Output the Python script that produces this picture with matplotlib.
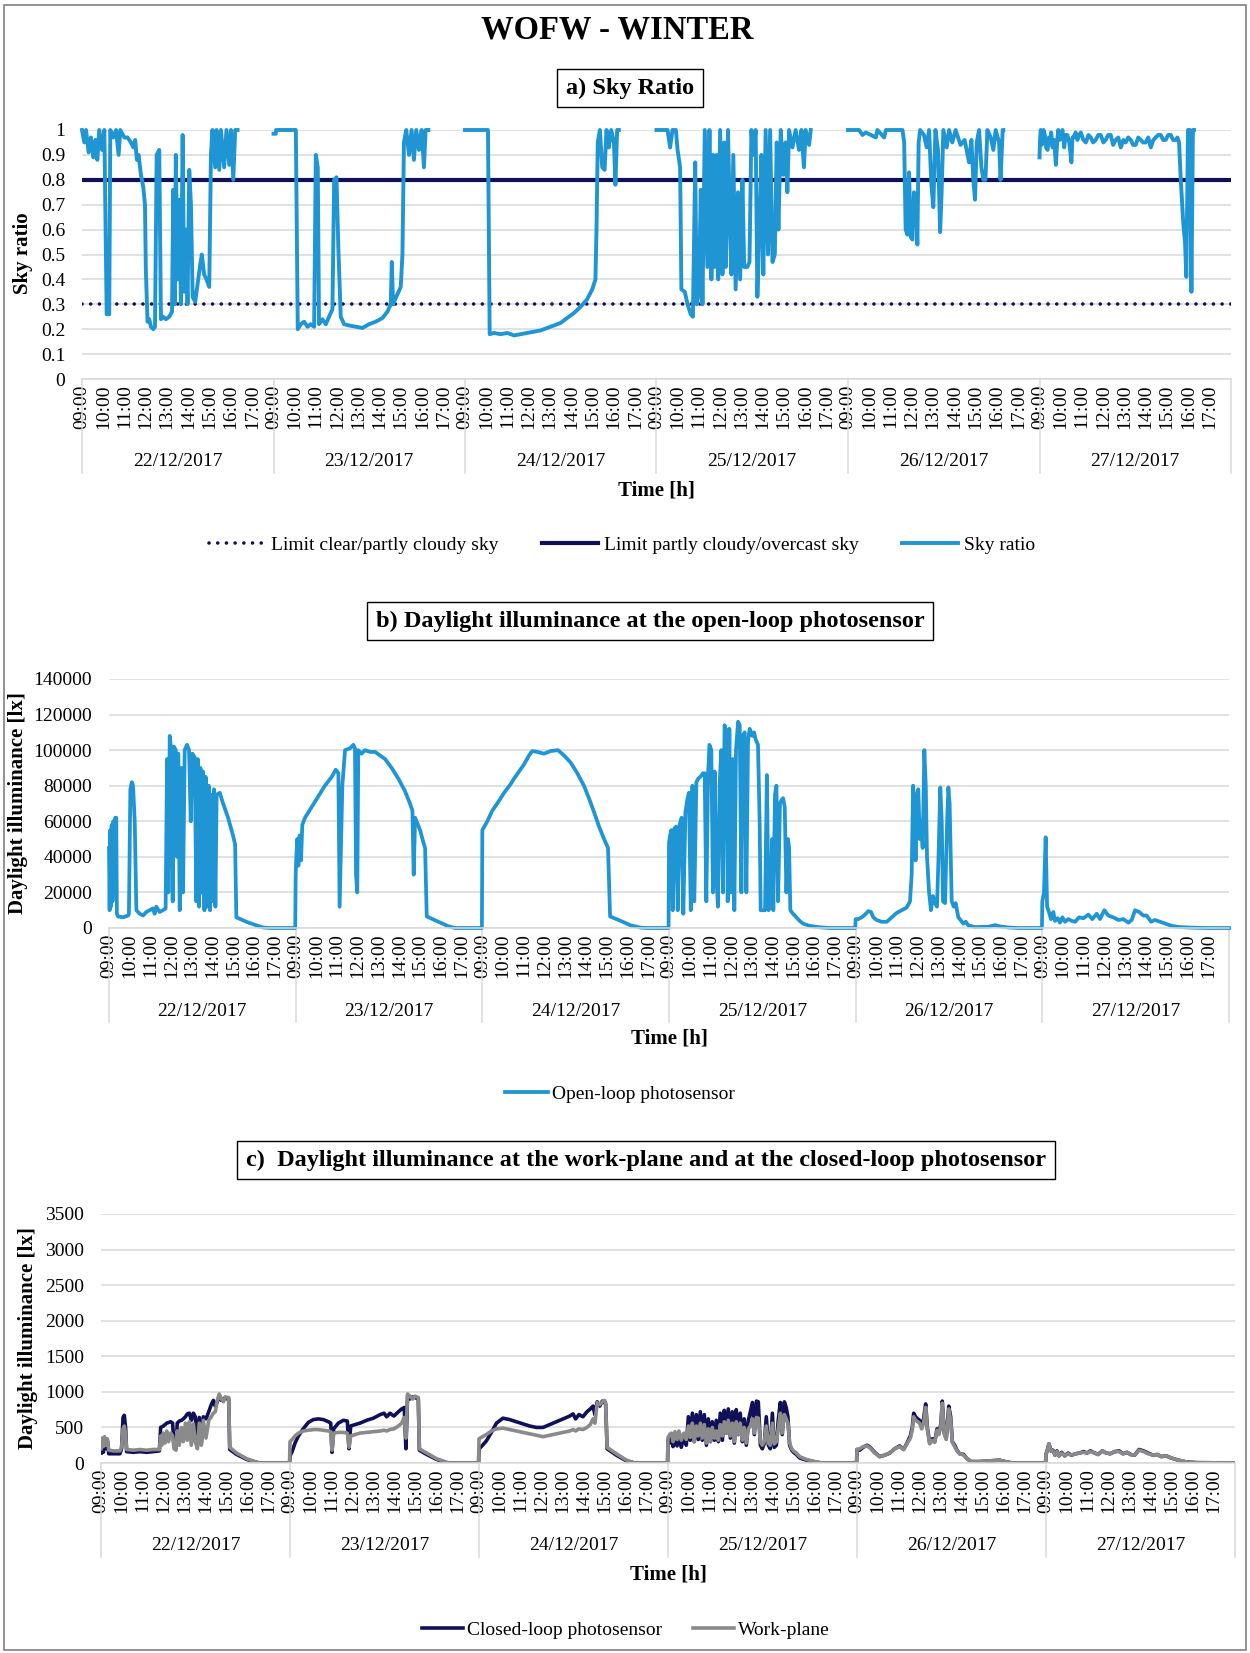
import numpy as np
import matplotlib
matplotlib.use("Agg")
import matplotlib.pyplot as plt
from matplotlib.patches import Rectangle

plt.rcParams['font.family'] = ['Liberation Serif', 'DejaVu Serif']

# ---------------- data ----------------
DAYS = ["22/12/2017", "23/12/2017", "24/12/2017", "25/12/2017", "26/12/2017", "27/12/2017"]
HOUR_LABELS = ["09:00", "10:00", "11:00", "12:00", "13:00", "14:00", "15:00", "16:00", "17:00"]

LIMIT_CLEAR = 0.3
LIMIT_OVERCAST = 0.8

# a) sky ratio, clock hours / values per day
SKY_22_T = [9.00, 9.11, 9.19, 9.31, 9.42, 9.53, 9.63, 9.72, 9.81, 9.94, 10.05, 10.16, 10.28, 10.33, 10.47, 10.60,
            10.72, 10.80, 10.99, 11.14, 11.30, 11.41, 11.50, 11.58, 11.66, 11.77, 11.88, 11.96, 12.00, 12.08, 12.16,
            12.24, 12.35, 12.43, 12.51, 12.63, 12.71, 12.82, 12.94, 13.10, 13.23, 13.29, 13.35, 13.41, 13.49, 13.57,
            13.65, 13.73, 13.80, 13.88, 13.96, 14.04, 14.12, 14.20, 14.32, 14.43, 14.54, 14.63, 14.74, 14.85, 14.98,
            15.06, 15.13, 15.26, 15.32, 15.45, 15.53, 15.68, 15.79, 15.92, 16.00, 16.11, 16.20, 16.31]
SKY_22_V = [1.0, 0.95, 1.0, 0.91, 0.97, 0.89, 0.96, 0.88, 1.0, 0.92, 1.0, 0.26, 0.26, 1.0, 0.97, 1.0, 0.9, 1.0, 0.97,
            0.97, 0.95, 0.93, 0.96, 0.88, 0.9, 0.82, 0.77, 0.7, 0.44, 0.23, 0.24, 0.21, 0.2, 0.21, 0.9, 0.92, 0.24,
            0.25, 0.24, 0.25, 0.27, 0.76, 0.3, 0.9, 0.4, 0.72, 0.3, 0.98, 0.35, 0.6, 0.3, 0.84, 0.7, 0.33, 0.31, 0.38,
            0.45, 0.5, 0.42, 0.4, 0.37, 0.9, 1.0, 0.85, 1.0, 0.84, 1.0, 0.85, 1.0, 0.86, 1.0, 0.8, 1.0, 1.0]
SKY_23_T = [9.00, 9.11, 9.12, 10.05, 10.14, 10.28, 10.44, 10.60, 10.75, 10.91, 10.99, 11.08, 11.14, 11.30, 11.46,
            11.61, 11.77, 11.85, 11.96, 12.05, 12.16, 12.32, 12.55, 12.87, 13.18, 13.49, 13.80, 14.12, 14.35, 14.51,
            14.56, 14.62, 14.77, 14.98, 15.06, 15.13, 15.24, 15.37, 15.49, 15.60, 15.71, 15.84, 15.96, 16.07, 16.15,
            16.28]
SKY_23_V = [0.985, 0.985, 1.0, 1.0, 0.2, 0.22, 0.23, 0.21, 0.22, 0.21, 0.9, 0.85, 0.22, 0.24, 0.22, 0.25, 0.28, 0.8,
            0.81, 0.52, 0.25, 0.22, 0.215, 0.21, 0.205, 0.22, 0.23, 0.245, 0.27, 0.3, 0.47, 0.3, 0.33, 0.37, 0.5, 0.95,
            1.0, 0.9, 1.0, 0.88, 1.0, 0.92, 1.0, 0.85, 1.0, 1.0]
SKY_24_T = [9.00, 10.08, 10.16, 10.36, 10.67, 10.99, 11.30, 11.61, 11.92, 12.24, 12.55, 12.87, 13.18, 13.49, 13.80,
            14.12, 14.43, 14.74, 14.98, 15.13, 15.18, 15.24, 15.34, 15.45, 15.56, 15.65, 15.76, 15.87, 16.00, 16.07,
            16.15, 16.23]
SKY_24_V = [1.0, 1.0, 0.18, 0.185, 0.18, 0.185, 0.175, 0.18, 0.185, 0.19, 0.195, 0.205, 0.215, 0.225, 0.245, 0.265,
            0.29, 0.32, 0.36, 0.4, 0.6, 0.95, 1.0, 0.85, 0.84, 1.0, 0.93, 1.0, 0.95, 0.78, 1.0, 1.0]
SKY_25_T = [9.00, 9.52, 9.64, 9.75, 9.91, 9.99, 10.11, 10.17, 10.33, 10.46, 10.61, 10.71, 10.82, 10.89, 11.00, 11.08,
            11.16, 11.27, 11.39, 11.49, 11.58, 11.66, 11.74, 11.82, 11.90, 11.99, 12.10, 12.18, 12.26, 12.36, 12.46,
            12.52, 12.61, 12.72, 12.83, 12.93, 13.04, 13.12, 13.27, 13.37, 13.46, 13.55, 13.66, 13.74, 13.84, 13.93,
            14.02, 14.13, 14.24, 14.34, 14.45, 14.56, 14.65, 14.73, 14.84, 14.96, 15.07, 15.15, 15.23, 15.39, 15.54,
            15.70, 15.81, 15.93, 16.01, 16.17, 16.25]
SKY_25_V = [1.0, 1.0, 0.93, 1.0, 1.0, 0.92, 0.85, 0.36, 0.35, 0.3, 0.26, 0.25, 0.87, 0.3, 0.35, 0.76, 0.3, 1.0, 0.45,
            1.0, 0.4, 0.9, 0.45, 0.9, 0.4, 1.0, 0.42, 0.95, 0.45, 1.0, 0.6, 0.42, 0.9, 0.36, 0.75, 0.4, 0.8, 0.45,
            0.45, 0.47, 1.0, 0.9, 1.0, 0.33, 0.6, 0.9, 0.42, 1.0, 0.5, 1.0, 0.47, 0.5, 0.95, 0.6, 1.0, 0.82, 0.95,
            0.75, 1.0, 0.93, 1.0, 0.92, 1.0, 0.85, 1.0, 0.94, 1.0]
SKY_26_T = [9.00, 9.52, 9.68, 9.84, 10.31, 10.38, 10.70, 10.78, 11.56, 11.64, 11.71, 11.79, 11.87, 11.95, 12.03,
            12.10, 12.18, 12.26, 12.32, 12.39, 12.57, 12.70, 12.81, 12.92, 13.01, 13.11, 13.23, 13.33, 13.40, 13.48,
            13.64, 13.75, 13.90, 14.06, 14.29, 14.48, 14.69, 14.80, 14.89, 14.97, 15.05, 15.16, 15.27, 15.36, 15.46,
            15.55, 15.71, 15.83, 15.94, 16.10, 16.17, 16.27, 16.30]
SKY_26_V = [1.0, 1.0, 0.98, 0.99, 0.97, 1.0, 0.97, 1.0, 1.0, 0.95, 0.6, 0.58, 0.83, 0.57, 0.56, 0.75, 0.74, 0.54, 0.95,
            1.0, 0.98, 0.93, 1.0, 0.78, 0.69, 1.0, 0.92, 0.59, 0.75, 1.0, 0.93, 1.0, 0.95, 1.0, 0.94, 0.96, 0.87, 0.96,
            0.8, 0.72, 0.95, 1.0, 0.85, 0.8, 0.8, 1.0, 0.97, 0.92, 1.0, 0.95, 0.8, 1.0, 1.0]
SKY_27_T = [9.00, 9.03, 9.06, 9.10, 9.14, 9.19, 9.25, 9.31, 9.38, 9.44, 9.50, 9.55, 9.61, 9.69, 9.77, 9.83, 9.88,
            9.94, 10.00, 10.08, 10.16, 10.23, 10.31, 10.40, 10.50, 10.55, 10.60, 10.70, 10.78, 10.86, 10.94, 11.06,
            11.18, 11.30, 11.41, 11.52, 11.64, 11.76, 11.88, 12.00, 12.11, 12.23, 12.35, 12.46, 12.58, 12.70, 12.82,
            12.94, 13.05, 13.17, 13.29, 13.40, 13.52, 13.64, 13.76, 13.87, 13.99, 14.11, 14.23, 14.35, 14.46, 14.58,
            14.70, 14.81, 14.93, 15.05, 15.17, 15.28, 15.40, 15.48, 15.56, 15.64, 15.76, 15.84, 15.90, 15.98, 16.07,
            16.14, 16.21, 16.26]
SKY_27_V = [0.89, 0.97, 1.0, 0.94, 0.95, 1.0, 0.98, 0.93, 0.92, 0.97, 0.95, 0.99, 0.93, 0.96, 0.86, 0.95, 1.0, 0.96,
            0.97, 1.0, 0.93, 0.98, 0.98, 0.95, 0.87, 0.97, 0.97, 0.99, 0.96, 0.98, 0.99, 0.96, 0.95, 0.98, 0.97, 0.95,
            0.96, 0.98, 0.98, 0.95, 0.96, 0.98, 0.98, 0.94, 0.96, 0.97, 0.93, 0.96, 0.95, 0.97, 0.96, 0.94, 0.94, 0.97,
            0.96, 0.95, 0.95, 0.97, 0.93, 0.96, 0.97, 0.98, 0.98, 0.96, 0.96, 0.98, 0.98, 0.96, 0.96, 0.97, 0.95, 0.8,
            0.62, 0.55, 0.41, 1.0, 1.0, 0.35, 1.0, 1.0]

# b) open-loop photosensor [lx]
OPEN_22_T = [9.00, 9.03, 9.06, 9.09, 9.13, 9.17, 9.21, 9.26, 9.30, 9.35, 9.38, 9.43, 9.68, 9.92, 9.96, 10.03, 10.10,
             10.16, 10.24, 10.32, 10.48, 10.64, 10.80, 10.96, 11.12, 11.20, 11.28, 11.44, 11.60, 11.73, 11.80, 11.86,
             11.93, 12.00, 12.07, 12.13, 12.22, 12.28, 12.34, 12.41, 12.49, 12.57, 12.65, 12.76, 12.86, 12.94, 13.02,
             13.13, 13.21, 13.28, 13.34, 13.41, 13.47, 13.53, 13.60, 13.66, 13.73, 13.81, 13.87, 13.94, 14.00, 14.06,
             14.13, 14.19, 14.34, 14.50, 14.74, 14.98, 15.08, 15.14, 15.62, 16.10, 16.43, 16.75, 17.98]
OPEN_22_V = [45000, 10000, 55000, 12000, 58000, 15000, 60000, 20000, 62000, 62000, 8000, 6500, 6000, 7000, 8000,
             78000, 82000, 80000, 60000, 10000, 8000, 7000, 9000, 10000, 11000, 8000, 12000, 9000, 10000, 11000,
             95000, 20000, 108000, 100000, 15000, 102000, 100000, 40000, 98000, 10000, 90000, 20000, 100000, 103000,
             100000, 60000, 98000, 96000, 15000, 95000, 12000, 90000, 20000, 88000, 10000, 85000, 12000, 80000, 10000,
             75000, 15000, 78000, 12000, 75000, 76000, 70000, 62000, 52000, 47000, 6000, 3500, 1500, 300, 0, 0]
OPEN_23_T = [9.00, 9.03, 9.08, 9.13, 9.19, 9.26, 9.32, 9.45, 9.77, 10.09, 10.41, 10.74, 10.93, 11.06, 11.12, 11.19,
             11.25, 11.38, 11.62, 11.78, 11.86, 11.91, 11.97, 12.02, 12.18, 12.34, 12.59, 12.83, 13.07, 13.31, 13.63,
             13.95, 14.27, 14.51, 14.63, 14.69, 14.76, 15.00, 15.16, 15.24, 15.32, 15.88, 16.36, 16.68, 17.98]
OPEN_23_V = [30000, 40000, 50000, 35000, 52000, 38000, 58000, 62000, 68000, 74000, 80000, 85000, 89000, 87000, 12000,
             50000, 80000, 100000, 101000, 103000, 101000, 30000, 20000, 100000, 98000, 100000, 99000, 99000, 97000,
             95000, 90000, 84000, 77000, 70000, 66000, 30000, 62000, 55000, 48000, 45000, 6500, 3500, 1000, 0, 0]
OPEN_24_T = [9.00, 9.24, 9.48, 9.72, 10.05, 10.37, 10.53, 10.77, 11.01, 11.25, 11.41, 11.65, 11.97, 12.30, 12.65,
             12.94, 13.26, 13.58, 13.90, 14.14, 14.39, 14.63, 14.87, 15.06, 15.16, 15.67, 16.15, 16.64, 16.96, 17.98]
OPEN_24_V = [55000, 60000, 66000, 70000, 76000, 81000, 84000, 88000, 92000, 97000, 99500, 99000, 98000, 99500,
             100000, 97000, 93000, 87000, 80000, 73000, 65000, 57000, 50000, 45000, 6500, 4000, 1500, 200, 0, 0]
OPEN_25_T = [9.00, 9.05, 9.11, 9.18, 9.26, 9.34, 9.42, 9.51, 9.61, 9.69, 9.79, 9.88, 9.96, 10.05, 10.13, 10.22,
             10.32, 10.41, 10.51, 10.64, 10.72, 10.80, 10.88, 10.95, 11.04, 11.12, 11.20, 11.28, 11.36, 11.44, 11.52,
             11.60, 11.68, 11.77, 11.83, 11.91, 11.99, 12.07, 12.15, 12.23, 12.33, 12.41, 12.49, 12.57, 12.65, 12.73,
             12.81, 12.89, 13.02, 13.10, 13.18, 13.29, 13.37, 13.42, 13.53, 13.63, 13.72, 13.80, 13.89, 13.97, 14.03,
             14.11, 14.18, 14.26, 14.35, 14.43, 14.50, 14.58, 14.66, 14.74, 14.79, 14.85, 14.98, 15.14, 15.30, 15.46,
             15.78, 16.27, 16.75, 17.98]
OPEN_25_V = [48000, 52000, 55000, 10000, 56000, 57000, 10000, 58000, 62000, 8000, 65000, 72000, 76000, 10000, 80000,
             15000, 82000, 84000, 85000, 87000, 87000, 15000, 85000, 103000, 100000, 20000, 88000, 30000, 12000,
             80000, 100000, 20000, 114000, 110000, 15000, 112000, 20000, 95000, 10000, 100000, 116000, 114000, 20000,
             108000, 110000, 20000, 105000, 112000, 108000, 110000, 106000, 103000, 60000, 10000, 10000, 10000, 86000,
             10000, 12000, 50000, 10000, 75000, 80000, 15000, 70000, 72000, 73000, 68000, 20000, 50000, 45000, 10000,
             8000, 6000, 4000, 2500, 1200, 400, 0, 0]
OPEN_26_T = [9.00, 9.13, 9.29, 9.45, 9.61, 9.74, 9.85, 10.01, 10.25, 10.50, 10.74, 10.98, 11.22, 11.46, 11.62, 11.70,
             11.77, 11.83, 11.89, 11.96, 12.02, 12.09, 12.15, 12.23, 12.31, 12.38, 12.44, 12.54, 12.63, 12.73, 12.83,
             12.92, 12.99, 13.08, 13.15, 13.21, 13.31, 13.41, 13.47, 13.53, 13.63, 13.73, 13.82, 13.95, 14.19, 14.31,
             14.43, 14.76, 15.40, 15.72, 15.96, 16.36, 16.85, 17.98]
OPEN_26_V = [5000, 5000, 6000, 7500, 9500, 9000, 6000, 4500, 3500, 3500, 6000, 8500, 10000, 11500, 15000, 30000,
             80000, 70000, 38000, 75000, 78000, 50000, 60000, 45000, 100000, 80000, 40000, 20000, 10000, 18000, 14000,
             12000, 38000, 79000, 60000, 15000, 14000, 60000, 79000, 70000, 15000, 12000, 14000, 6000, 2500, 3500,
             1500, 500, 700, 1600, 900, 300, 0, 0]
OPEN_27_T = [9.00, 9.03, 9.08, 9.16, 9.23, 9.32, 9.42, 9.53, 9.61, 9.74, 9.85, 9.97, 10.09, 10.25, 10.42, 10.58,
             10.77, 10.98, 11.22, 11.41, 11.62, 11.78, 11.99, 12.18, 12.42, 12.67, 12.91, 13.15, 13.31, 13.47, 13.67,
             13.87, 14.03, 14.24, 14.43, 14.67, 14.92, 15.24, 15.56, 16.04, 16.52, 17.01, 18.00]
OPEN_27_V = [15000, 17000, 20000, 51000, 12000, 9000, 5000, 9000, 4000, 5500, 3000, 6000, 3500, 5000, 4000, 3500,
             6000, 5500, 7500, 5000, 8000, 5000, 10000, 7000, 6000, 4500, 5000, 3000, 4500, 10000, 9000, 7000, 7000,
             3500, 4500, 3500, 2500, 1200, 600, 300, 100, 0, 0]

# c) closed-loop photosensor and work-plane [lx], shared time grid per day
WP_22_T = [9.00, 9.05, 9.11, 9.17, 9.24, 9.30, 9.37, 9.59, 9.90, 9.98, 10.05, 10.11, 10.17, 10.22, 10.54, 10.86,
           11.17, 11.49, 11.78, 11.84, 11.90, 11.97, 12.05, 12.13, 12.22, 12.32, 12.41, 12.48, 12.57, 12.63, 12.73,
           12.83, 12.92, 13.02, 13.11, 13.21, 13.30, 13.40, 13.49, 13.59, 13.68, 13.78, 13.87, 14.00, 14.13, 14.25,
           14.35, 14.44, 14.54, 14.63, 14.73, 14.83, 14.92, 15.02, 15.08, 15.13, 15.46, 15.94, 16.41, 16.57, 17.98]
CLOSED_22_V = [140, 300, 150, 320, 200, 330, 130, 130, 130, 200, 640, 670, 500, 160, 150, 160, 150, 160, 170, 500,
               510, 520, 540, 560, 570, 580, 560, 220, 200, 560, 590, 600, 620, 650, 690, 700, 600, 700, 650, 240,
               640, 280, 650, 620, 720, 820, 880, 800, 860, 950, 880, 900, 920, 900, 900, 190, 120, 50, 10, 0, 0]
WORK_22_V = [200, 350, 230, 370, 250, 340, 180, 170, 170, 220, 480, 520, 400, 190, 180, 190, 180, 190, 190, 380,
             250, 420, 280, 450, 300, 420, 380, 200, 180, 450, 250, 500, 300, 560, 320, 580, 250, 550, 300, 200,
             560, 250, 600, 350, 600, 650, 700, 720, 880, 970, 900, 860, 930, 920, 920, 220, 140, 60, 10, 0, 0]
WP_23_T = [9.00, 9.10, 9.24, 9.40, 9.63, 9.87, 10.11, 10.35, 10.59, 10.83, 10.94, 11.00, 11.08, 11.30, 11.54, 11.73,
           11.81, 11.89, 12.10, 12.33, 12.65, 12.97, 13.29, 13.48, 13.60, 13.76, 13.95, 14.16, 14.32, 14.44, 14.52,
           14.60, 14.71, 14.84, 14.95, 15.11, 15.16, 15.51, 15.98, 16.46, 16.62, 17.98]
CLOSED_23_V = [100, 160, 280, 380, 480, 570, 610, 620, 610, 580, 560, 150, 480, 560, 600, 590, 200, 520, 540, 560,
               600, 630, 680, 700, 650, 700, 660, 720, 760, 780, 200, 950, 900, 930, 920, 900, 180, 120, 50, 5, 0, 0]
WORK_23_V = [300, 330, 380, 420, 450, 460, 470, 470, 460, 450, 440, 180, 420, 430, 430, 420, 220, 380, 400, 420,
             430, 440, 450, 460, 450, 470, 480, 520, 560, 640, 350, 970, 940, 900, 940, 920, 200, 140, 60, 10, 0, 0]
WP_24_T = [9.00, 9.11, 9.35, 9.59, 9.83, 10.14, 10.46, 10.78, 11.10, 11.41, 11.73, 12.05, 12.37, 12.68, 13.00, 13.32,
           13.48, 13.60, 13.76, 13.95, 14.14, 14.30, 14.43, 14.52, 14.63, 14.75, 14.87, 14.98, 15.03, 15.10, 15.54,
           16.02, 16.41, 17.98]
CLOSED_24_V = [200, 230, 310, 430, 560, 630, 610, 580, 550, 520, 500, 500, 540, 580, 620, 660, 690, 620, 680, 650,
               720, 760, 800, 680, 860, 800, 870, 850, 830, 200, 110, 30, 0, 0]
WORK_24_V = [340, 360, 400, 450, 480, 490, 470, 450, 430, 410, 390, 370, 390, 410, 430, 450, 470, 450, 480, 470,
             500, 540, 620, 560, 850, 820, 860, 880, 840, 220, 130, 40, 0, 0]
WP_25_T = [9.00, 9.08, 9.16, 9.24, 9.33, 9.43, 9.52, 9.63, 9.75, 9.87, 9.97, 10.06, 10.16, 10.25, 10.35, 10.44, 10.54,
           10.63, 10.73, 10.83, 10.92, 11.02, 11.11, 11.21, 11.30, 11.40, 11.49, 11.59, 11.68, 11.78, 11.87, 11.97,
           12.06, 12.16, 12.25, 12.35, 12.44, 12.54, 12.63, 12.73, 12.83, 12.92, 13.02, 13.11, 13.21, 13.30, 13.40,
           13.49, 13.59, 13.68, 13.78, 13.87, 13.97, 14.06, 14.16, 14.25, 14.35, 14.44, 14.54, 14.63, 14.71, 14.79,
           14.89, 14.98, 15.11, 15.27, 15.59, 16.06, 16.38, 17.98]
CLOSED_25_V = [330, 280, 380, 230, 400, 240, 380, 220, 360, 250, 650, 320, 700, 300, 680, 330, 720, 320, 680, 250,
               620, 300, 580, 320, 600, 300, 700, 320, 740, 420, 760, 350, 720, 280, 750, 400, 700, 300, 620, 250,
               600, 720, 850, 400, 870, 860, 250, 200, 280, 650, 250, 200, 700, 220, 250, 600, 850, 400, 860, 780,
               650, 250, 180, 150, 120, 70, 40, 10, 0, 0]
WORK_25_V = [360, 400, 420, 300, 440, 330, 450, 320, 420, 330, 520, 360, 560, 300, 520, 380, 560, 350, 540, 280,
             480, 300, 500, 350, 450, 320, 540, 380, 580, 420, 600, 380, 560, 300, 580, 400, 560, 320, 500, 280,
             480, 520, 620, 420, 640, 630, 300, 250, 300, 520, 280, 250, 560, 270, 300, 480, 700, 420, 680, 620,
             560, 280, 200, 170, 140, 90, 50, 15, 0, 0]
WP_26_T = [9.00, 9.13, 9.29, 9.48, 9.63, 9.84, 10.08, 10.32, 10.56, 10.79, 11.03, 11.22, 11.38, 11.54, 11.63, 11.70,
           11.79, 11.89, 11.98, 12.08, 12.17, 12.27, 12.35, 12.46, 12.59, 12.70, 12.81, 12.90, 13.00, 13.06, 13.16,
           13.25, 13.37, 13.46, 13.54, 13.65, 13.76, 13.89, 14.08, 14.24, 14.44, 14.84, 15.32, 15.79, 16.11, 16.43,
           17.98]
CLOSED_26_V = [190, 180, 220, 250, 220, 150, 90, 110, 140, 200, 240, 190, 280, 380, 500, 700, 650, 620, 600, 520,
               620, 830, 500, 280, 340, 300, 480, 420, 560, 870, 420, 350, 800, 650, 300, 250, 180, 130, 120, 60,
               20, 20, 30, 40, 15, 0, 0]
WORK_26_V = [190, 200, 230, 240, 210, 140, 90, 110, 140, 200, 230, 190, 270, 350, 460, 650, 600, 580, 560, 480,
             560, 780, 470, 270, 320, 290, 460, 400, 540, 840, 400, 330, 760, 600, 290, 230, 170, 130, 110, 60,
             20, 20, 30, 40, 15, 0, 0]
WP_27_T = [9.00, 9.08, 9.14, 9.24, 9.33, 9.43, 9.52, 9.62, 9.75, 9.89, 10.05, 10.21, 10.41, 10.60, 10.79, 10.95,
           11.11, 11.32, 11.48, 11.68, 11.87, 12.06, 12.27, 12.48, 12.67, 12.86, 13.02, 13.22, 13.43, 13.65, 13.86,
           14.10, 14.29, 14.49, 14.73, 14.97, 15.29, 15.68, 16.16, 18.00]
CLOSED_27_V = [120, 200, 270, 170, 180, 110, 170, 100, 150, 100, 140, 110, 130, 140, 160, 140, 170, 140, 120, 170,
               140, 130, 160, 170, 130, 150, 120, 110, 190, 170, 140, 110, 120, 90, 100, 70, 40, 15, 5, 0]
WORK_27_V = [120, 200, 270, 170, 170, 110, 160, 100, 140, 100, 130, 110, 130, 140, 150, 140, 160, 140, 120, 170,
             140, 130, 160, 160, 130, 150, 120, 110, 180, 160, 130, 110, 120, 90, 100, 70, 40, 15, 5, 0]

# ---------------- style ----------------
W, H = 1250, 1653
SKY_BLUE = '#1F95D3'
NAVY = '#101058'
GRAY = '#8A8A8A'
GRID = '#D9D9D9'


def to_axis(times, values, gap):
    """Concatenate the days on a 9-hour-per-day category axis."""
    xs, ys = [], []
    for d, (t, v) in enumerate(zip(times, values)):
        xs.extend(d * 9 + np.asarray(t) - 9)
        ys.extend(v)
        if gap:
            xs.append(np.nan)
            ys.append(np.nan)
    return np.array(xs, dtype=float), np.array(ys, dtype=float)


def add_axes_px(left, right, top, bottom):
    return fig.add_axes([left / W, 1 - bottom / H, (right - left) / W, (bottom - top) / H])


def style_axes(ax, yticks, ylabels, height_px):
    ax.set_xlim(0, 54)
    ax.set_ylim(yticks[0], yticks[-1])
    ax.set_yticks(yticks)
    ax.set_yticklabels(ylabels, fontsize=14)
    ax.grid(axis='y', color=GRID, lw=1.1)
    ax.set_axisbelow(True)
    for s in ['top', 'right', 'left']:
        ax.spines[s].set_visible(False)
    ax.spines['bottom'].set_color(GRID)
    ax.spines['bottom'].set_linewidth(1.1)
    ax.tick_params(axis='y', length=0, pad=12)
    pos = [d * 9 + k for d in range(len(DAYS)) for k in range(len(HOUR_LABELS))]
    ax.set_xticks(pos)
    ax.set_xticklabels(HOUR_LABELS * len(DAYS), rotation=90, fontsize=14, va='top')
    ax.tick_params(axis='x', length=0, pad=4)
    for d in range(len(DAYS) + 1):
        ax.axvline(d * 9, ymin=-94 / height_px, ymax=0, clip_on=False, color=GRID, lw=1.1)
    for d, lab in enumerate(DAYS):
        ax.text(d * 9 + 4.5, -83 / height_px, lab, transform=ax.get_xaxis_transform(),
                ha='center', va='center', fontsize=14)
    ax.text(0.5, -111 / height_px, "Time [h]", transform=ax.transAxes, ha='center', va='center',
            fontsize=15, fontweight='bold')


fig = plt.figure(figsize=(W / 100, H / 100), dpi=100)
fig.patch.set_facecolor('white')
fig.patches.append(Rectangle((0.003, 0.002), 0.994, 0.995, transform=fig.transFigure, fill=False,
                             ec='#7F7F7F', lw=1.2))

fig.text(617 / W, 1 - 30 / H, "WOFW - WINTER", ha='center', va='center', fontsize=23.5, fontweight='bold')

box = dict(boxstyle='square,pad=0.35', fc='white', ec='black', lw=1.0)

# ---- a) sky ratio ----
ax_a = add_axes_px(82, 1231, 130, 379)
style_axes(ax_a, [0, 0.1, 0.2, 0.3, 0.4, 0.5, 0.6, 0.7, 0.8, 0.9, 1.0],
           ["0", "0.1", "0.2", "0.3", "0.4", "0.5", "0.6", "0.7", "0.8", "0.9", "1"], 249)
ax_a.axhline(LIMIT_CLEAR, color=NAVY, lw=2.6, linestyle=(0, (0.01, 2.4)), dash_capstyle='round',
             label="Limit clear/partly cloudy sky")
ax_a.axhline(LIMIT_OVERCAST, color=NAVY, lw=3.0, label="Limit partly cloudy/overcast sky")
sx, sy = to_axis([SKY_22_T, SKY_23_T, SKY_24_T, SKY_25_T, SKY_26_T, SKY_27_T],
                 [SKY_22_V, SKY_23_V, SKY_24_V, SKY_25_V, SKY_26_V, SKY_27_V], gap=True)
ax_a.plot(sx, sy, color=SKY_BLUE, lw=2.8, clip_on=False, label="Sky ratio")
fig.text(630 / W, 1 - 88 / H, "a) Sky Ratio", ha='center', va='center', fontsize=17.5, fontweight='bold', bbox=box)
fig.text(23 / W, 1 - 253 / H, "Sky ratio", rotation=90, ha='center', va='center', fontsize=15, fontweight='bold')
fig.legend(*ax_a.get_legend_handles_labels(), loc='center', bbox_to_anchor=(622 / W, 1 - 545 / H), ncol=3,
           frameon=False, fontsize=14, handlelength=2.9, columnspacing=2.2, handletextpad=0.3)

# ---- b) open-loop photosensor ----
ax_b = add_axes_px(109, 1229, 679, 928)
style_axes(ax_b, [0, 20000, 40000, 60000, 80000, 100000, 120000, 140000],
           ["0", "20000", "40000", "60000", "80000", "100000", "120000", "140000"], 249)
ox, oy = to_axis([OPEN_22_T, OPEN_23_T, OPEN_24_T, OPEN_25_T, OPEN_26_T, OPEN_27_T],
                 [OPEN_22_V, OPEN_23_V, OPEN_24_V, OPEN_25_V, OPEN_26_V, OPEN_27_V], gap=False)
ax_b.plot(ox, oy, color=SKY_BLUE, lw=2.7, clip_on=False, label="Open-loop photosensor")
fig.text(650 / W, 1 - 621 / H, "b) Daylight illuminance at the open-loop photosensor", ha='center', va='center',
         fontsize=17.5, fontweight='bold', bbox=box)
fig.text(18 / W, 1 - 803 / H, "Daylight illuminance [lx]", rotation=90, ha='center', va='center', fontsize=15,
         fontweight='bold')
fig.legend(*ax_b.get_legend_handles_labels(), loc='center', bbox_to_anchor=(620 / W, 1 - 1094 / H),
           frameon=False, fontsize=14, handlelength=2.2, handletextpad=0.2)

# ---- c) work-plane and closed-loop photosensor ----
ax_c = add_axes_px(101, 1235, 1214, 1463)
style_axes(ax_c, [0, 500, 1000, 1500, 2000, 2500, 3000, 3500],
           ["0", "500", "1000", "1500", "2000", "2500", "3000", "3500"], 249)
wp_times = [WP_22_T, WP_23_T, WP_24_T, WP_25_T, WP_26_T, WP_27_T]
cx, cy = to_axis(wp_times, [CLOSED_22_V, CLOSED_23_V, CLOSED_24_V, CLOSED_25_V, CLOSED_26_V, CLOSED_27_V], gap=False)
wx, wy = to_axis(wp_times, [WORK_22_V, WORK_23_V, WORK_24_V, WORK_25_V, WORK_26_V, WORK_27_V], gap=False)
ax_c.plot(cx, cy, color=NAVY, lw=2.6, label="Closed-loop photosensor")
ax_c.plot(wx, wy, color=GRAY, lw=2.6, label="Work-plane")
fig.text(646 / W, 1 - 1160 / H, "c)  Daylight illuminance at the work-plane and at the closed-loop photosensor",
         ha='center', va='center', fontsize=17.5, fontweight='bold', bbox=box)
fig.text(28 / W, 1 - 1338 / H, "Daylight illuminance [lx]", rotation=90, ha='center', va='center', fontsize=15,
         fontweight='bold')
fig.legend(*ax_c.get_legend_handles_labels(), loc='center', bbox_to_anchor=(626 / W, 1 - 1630 / H), ncol=2,
           frameon=False, fontsize=14, handlelength=2.1, columnspacing=1.6, handletextpad=0.2)

fig.savefig("out.png", dpi=100, facecolor='white')
